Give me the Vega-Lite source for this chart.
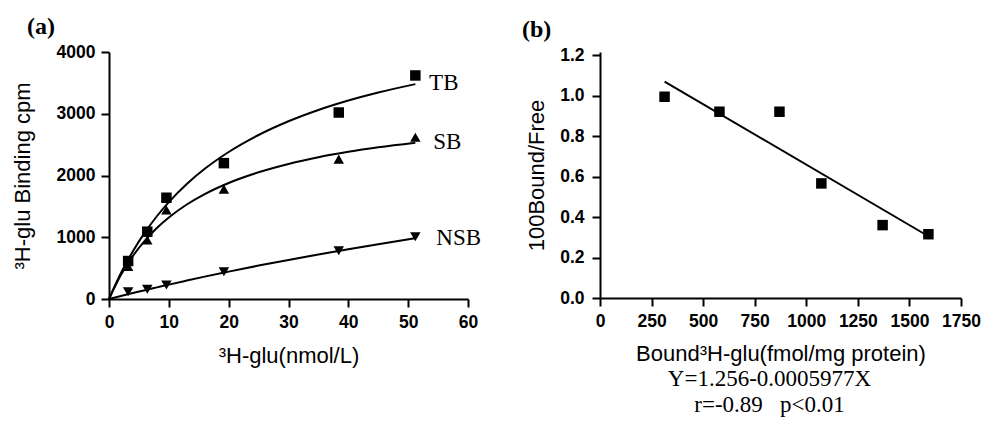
{
  "$schema": "https://vega.github.io/schema/vega-lite/v6.json",
  "background": "white",
  "padding": {"left": 10, "top": 15, "right": 5, "bottom": 5},
  "spacing": 39,
  "config": {
    "view": {"stroke": null},
    "axis": {
      "grid": false,
      "domainColor": "black",
      "domainWidth": 2,
      "tickColor": "black",
      "tickWidth": 2,
      "tickSize": 8,
      "labelFont": "Liberation Sans",
      "labelFontWeight": "bold",
      "labelFontSize": 17.5,
      "labelColor": "black",
      "labelOverlap": false,
      "labelFlush": false,
      "titleFont": "Liberation Sans",
      "titleFontWeight": "normal",
      "titleFontSize": 22,
      "titleColor": "black"
    },
    "title": {"font": "Liberation Serif", "fontSize": 24, "fontWeight": "bold", "color": "black"}
  },
  "datasets": {
    "pointsA": [
      {"series": "TB", "x": 3.2, "y": 615},
      {"series": "TB", "x": 6.4, "y": 1090},
      {"series": "TB", "x": 9.6, "y": 1640},
      {"series": "TB", "x": 19.2, "y": 2200},
      {"series": "TB", "x": 38.4, "y": 3020},
      {"series": "TB", "x": 51.2, "y": 3620},
      {"series": "SB", "x": 3.2, "y": 525},
      {"series": "SB", "x": 6.4, "y": 955},
      {"series": "SB", "x": 9.6, "y": 1440},
      {"series": "SB", "x": 19.2, "y": 1780},
      {"series": "SB", "x": 38.4, "y": 2265},
      {"series": "SB", "x": 51.2, "y": 2620},
      {"series": "NSB", "x": 3.2, "y": 118},
      {"series": "NSB", "x": 6.4, "y": 157},
      {"series": "NSB", "x": 9.6, "y": 227},
      {"series": "NSB", "x": 19.2, "y": 442},
      {"series": "NSB", "x": 38.4, "y": 782},
      {"series": "NSB", "x": 51.2, "y": 1009}
    ],
    "curvesA": [
      {"series": "TB", "x": 0, "y": 0}, {"series": "TB", "x": 2, "y": 420}, {"series": "TB", "x": 4, "y": 775},
      {"series": "TB", "x": 6, "y": 1078}, {"series": "TB", "x": 8, "y": 1340}, {"series": "TB", "x": 10, "y": 1569},
      {"series": "TB", "x": 13, "y": 1862}, {"series": "TB", "x": 16, "y": 2108}, {"series": "TB", "x": 20, "y": 2381},
      {"series": "TB", "x": 25, "y": 2656}, {"series": "TB", "x": 30, "y": 2878}, {"series": "TB", "x": 35, "y": 3061},
      {"series": "TB", "x": 40, "y": 3214}, {"series": "TB", "x": 45, "y": 3344}, {"series": "TB", "x": 51.2, "y": 3480},
      {"series": "SB", "x": 0, "y": 0}, {"series": "SB", "x": 2, "y": 391}, {"series": "SB", "x": 4, "y": 698},
      {"series": "SB", "x": 6, "y": 946}, {"series": "SB", "x": 8, "y": 1150}, {"series": "SB", "x": 10, "y": 1320},
      {"series": "SB", "x": 13, "y": 1530}, {"series": "SB", "x": 16, "y": 1699}, {"series": "SB", "x": 20, "y": 1879},
      {"series": "SB", "x": 25, "y": 2052}, {"series": "SB", "x": 30, "y": 2187}, {"series": "SB", "x": 35, "y": 2295},
      {"series": "SB", "x": 40, "y": 2383}, {"series": "SB", "x": 45, "y": 2456}, {"series": "SB", "x": 51.2, "y": 2531},
      {"series": "NSB", "x": 0, "y": 0}, {"series": "NSB", "x": 2, "y": 49}, {"series": "NSB", "x": 4, "y": 96},
      {"series": "NSB", "x": 6, "y": 143}, {"series": "NSB", "x": 8, "y": 188}, {"series": "NSB", "x": 10, "y": 233},
      {"series": "NSB", "x": 13, "y": 298}, {"series": "NSB", "x": 16, "y": 362}, {"series": "NSB", "x": 20, "y": 443},
      {"series": "NSB", "x": 25, "y": 541}, {"series": "NSB", "x": 30, "y": 633}, {"series": "NSB", "x": 35, "y": 722},
      {"series": "NSB", "x": 40, "y": 807}, {"series": "NSB", "x": 45, "y": 888}, {"series": "NSB", "x": 51.2, "y": 983}
    ],
    "labelsA": [
      {"label": "TB", "x": 53.5, "y": 3500},
      {"label": "SB", "x": 54.2, "y": 2545},
      {"label": "NSB", "x": 54.7, "y": 990}
    ],
    "pointsB": [
      {"x": 313, "y": 0.994},
      {"x": 579, "y": 0.92},
      {"x": 870, "y": 0.92},
      {"x": 1073, "y": 0.566},
      {"x": 1370, "y": 0.36},
      {"x": 1592, "y": 0.315}
    ],
    "lineB": [
      {"x": 313, "y": 1.069},
      {"x": 1592, "y": 0.305}
    ]
  },
  "hconcat": [
    {
      "title": {"text": "(a)", "anchor": "start", "dx": 16, "offset": -20, "baseline": "bottom"},
      "width": 359,
      "height": 247,
      "layer": [
        {
          "data": {"name": "curvesA"},
          "mark": {"type": "line", "color": "black", "strokeWidth": 2, "interpolate": "monotone"},
          "encoding": {
            "x": {"field": "x", "type": "quantitative", "scale": {"domain": [0, 60], "nice": false},
                  "axis": {"values": [0, 10, 20, 30, 40, 50, 60], "format": "d", "labelPadding": 6,
                           "title": "³H-glu(nmol/L)", "titleY": 56, "titleBaseline": "middle"}},
            "y": {"field": "y", "type": "quantitative", "scale": {"domain": [0, 4000], "nice": false},
                  "axis": {"values": [0, 1000, 2000, 3000, 4000], "format": "d", "labelPadding": 6,
                           "title": "³H-glu Binding cpm", "titleX": -87, "titleBaseline": "middle"}},
            "detail": {"field": "series"}
          }
        },
        {
          "data": {"name": "pointsA"},
          "mark": {"type": "point", "filled": true, "opacity": 1, "color": "black", "size": 110},
          "encoding": {
            "x": {"field": "x", "type": "quantitative"},
            "y": {"field": "y", "type": "quantitative"},
            "shape": {"field": "series", "type": "nominal",
                      "scale": {"domain": ["TB", "SB", "NSB"], "range": ["square", "triangle-up", "triangle-down"]},
                      "legend": null}
          }
        },
        {
          "data": {"name": "labelsA"},
          "mark": {"type": "text", "align": "left", "baseline": "middle", "font": "Liberation Serif", "fontSize": 23, "color": "black"},
          "encoding": {
            "x": {"field": "x", "type": "quantitative"},
            "y": {"field": "y", "type": "quantitative"},
            "text": {"field": "label"}
          }
        }
      ]
    },
    {
      "title": {"text": "(b)", "anchor": "start", "dx": -3, "offset": -20, "baseline": "bottom"},
      "vconcat": [
        {
          "title": {"text": ["Y=1.256-0.0005977X", "r=-0.89\u00a0\u00a0\u00a0p<0.01"], "orient": "bottom", "anchor": "middle",
                    "frame": "group", "dx": -11, "offset": 4, "fontWeight": "normal", "fontSize": 23, "lineHeight": 26},
          "width": 361,
          "height": 246,
          "layer": [
            {
              "data": {"name": "lineB"},
              "mark": {"type": "line", "color": "black", "strokeWidth": 2},
              "encoding": {
                "x": {"field": "x", "type": "quantitative", "scale": {"domain": [0, 1750], "nice": false},
                      "axis": {"values": [0, 250, 500, 750, 1000, 1250, 1500, 1750], "format": "d", "labelPadding": 6,
                               "title": "Bound³H-glu(fmol/mg protein)", "titleY": 55, "titleBaseline": "middle"}},
                "y": {"field": "y", "type": "quantitative", "scale": {"domain": [0, 1.215], "nice": false},
                      "axis": {"values": [0, 0.2, 0.4, 0.6, 0.8, 1.0, 1.2], "format": ".1f", "labelPadding": 8,
                               "title": "100Bound/Free", "titleX": -64, "titleBaseline": "middle"}}
              }
            },
            {
              "data": {"name": "pointsB"},
              "mark": {"type": "point", "shape": "square", "filled": true, "opacity": 1, "color": "black", "size": 110},
              "encoding": {
                "x": {"field": "x", "type": "quantitative"},
                "y": {"field": "y", "type": "quantitative"}
              }
            }
          ]
        }
      ]
    }
  ]
}
